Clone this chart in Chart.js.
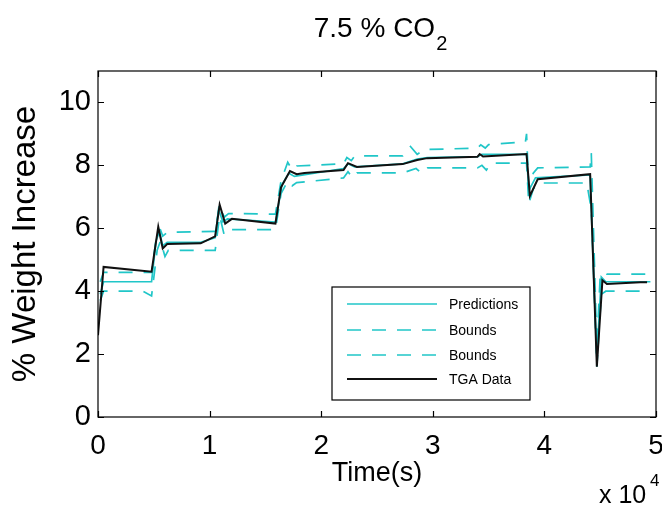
<!DOCTYPE html>
<html>
<head>
<meta charset="utf-8">
<script src="https://cdn.jsdelivr.net/npm/chart.js@4/dist/chart.umd.min.js"></script>
<style>
  html, body { margin: 0; padding: 0; background: #fff; }
  #wrap { width: 662px; height: 507px; }
</style>
</head>
<body>
<div id="wrap"><canvas id="grafico" width="662" height="507"></canvas></div>
<script>
// time in units of 1e4 s (axis shows "x 10^4")
const tgaTime  = [0, 0.05, 0.48, 0.54, 0.58, 0.62, 0.92, 1.05, 1.09, 1.14, 1.2, 1.59, 1.64, 1.72, 1.78, 1.85, 2.2, 2.24, 2.32, 2.73, 2.86, 2.95, 3.4, 3.42, 3.45, 3.84, 3.87, 3.94, 4.41, 4.47, 4.52, 4.56, 4.86, 4.92];
const tgaValue = [2.6, 4.77, 4.62, 6.05, 5.36, 5.5, 5.52, 5.74, 6.75, 6.15, 6.3, 6.15, 7.3, 7.82, 7.72, 7.76, 7.85, 8.07, 7.95, 8.04, 8.17, 8.23, 8.27, 8.36, 8.28, 8.36, 7.03, 7.56, 7.72, 1.6, 4.35, 4.23, 4.28, 4.28];

const predTime  = [0.02, 0.05, 0.48, 0.52, 0.55, 0.58, 0.62, 0.92, 1.05, 1.08, 1.12, 1.16, 1.59, 1.65, 1.71, 1.76, 2.2, 2.24, 2.3, 2.73, 2.86, 2.95, 3.4, 3.44, 3.84, 3.86, 3.92, 4.41, 4.47, 4.51, 4.55, 4.95];
const predValue = [3.9, 4.3, 4.3, 5.6, 5.9, 5.45, 5.55, 5.55, 5.7, 6.6, 6.2, 6.3, 6.2, 7.4, 7.75, 7.65, 7.9, 8.05, 7.95, 8.05, 8.2, 8.25, 8.28, 8.35, 8.35, 7.2, 7.6, 7.7, 1.9, 4.45, 4.3, 4.3];

const upperTime  = [0.02, 0.05, 0.48, 0.53, 0.56, 0.58, 0.62, 1.05, 1.09, 1.13, 1.17, 1.59, 1.64, 1.7, 1.74, 1.78, 2.2, 2.23, 2.27, 2.3, 2.73, 2.8, 2.86, 2.92, 3.4, 3.43, 3.47, 3.5, 3.83, 3.84, 3.86, 3.9, 3.94, 4.41, 4.42, 4.47, 4.5, 4.53, 4.56, 4.95];
const upperValue = [4.3, 4.6, 4.6, 5.9, 5.95, 5.75, 5.87, 5.9, 6.75, 6.35, 6.47, 6.45, 7.5, 8.1, 7.85, 7.98, 8.05, 8.25, 8.15, 8.3, 8.3, 8.6, 8.35, 8.5, 8.55, 8.65, 8.55, 8.66, 8.75, 9.0, 7.3, 7.75, 7.92, 7.95, 8.4, 2.2, 4.5, 4.6, 4.54, 4.54];

const lowerTime  = [0.02, 0.05, 0.4, 0.48, 0.53, 0.56, 0.6, 0.63, 1.05, 1.09, 1.13, 1.17, 1.59, 1.64, 1.7, 1.74, 1.78, 2.2, 2.24, 2.28, 2.32, 2.73, 2.85, 2.9, 2.95, 3.4, 3.44, 3.48, 3.52, 3.84, 3.86, 3.9, 3.95, 4.38, 4.42, 4.47, 4.51, 4.55, 4.95];
const lowerValue = [3.7, 4.0, 4.0, 3.85, 5.3, 5.6, 5.1, 5.3, 5.3, 6.4, 5.8, 5.96, 5.96, 7.1, 7.5, 7.35, 7.45, 7.6, 7.8, 7.6, 7.76, 7.76, 7.9, 7.75, 7.92, 7.92, 8.0, 7.85, 8.07, 8.07, 6.78, 7.25, 7.44, 7.44, 6.6, 1.6, 3.9, 4.0, 4.0];

const xTicks = [0, 1, 2, 3, 4, 5];
const yTicks = [0, 2, 4, 6, 8, 10];

const CYAN = 'rgb(32, 198, 200)';
const FONT = "'Liberation Sans', Arial, sans-serif";

function pts(xs, ys) {
  return xs.map((x, i) => ({ x: x, y: ys[i] }));
}

// title, box, inward ticks on all four sides, legend, exponent label
const matlabLook = {
  id: 'matlabLook',
  afterDraw(chart) {
    const ctx = chart.ctx;
    const a = chart.chartArea;
    const xs = chart.scales.x, ys = chart.scales.y;
    ctx.save();

    // box
    ctx.strokeStyle = '#000';
    ctx.lineWidth = 1.2;
    ctx.strokeRect(a.left, a.top, a.right - a.left, a.bottom - a.top);

    // ticks pointing in
    const tl = 6;
    ctx.beginPath();
    xTicks.forEach(v => {
      const px = Math.round(xs.getPixelForValue(v)) + 0.5;
      ctx.moveTo(px, a.bottom); ctx.lineTo(px, a.bottom - tl);
      ctx.moveTo(px, a.top); ctx.lineTo(px, a.top + tl);
    });
    yTicks.forEach(v => {
      const py = Math.round(ys.getPixelForValue(v)) + 0.5;
      ctx.moveTo(a.left, py); ctx.lineTo(a.left + tl, py);
      ctx.moveTo(a.right, py); ctx.lineTo(a.right - tl, py);
    });
    ctx.stroke();

    // title with subscript
    ctx.fillStyle = '#000';
    ctx.textBaseline = 'alphabetic';
    ctx.textAlign = 'left';
    ctx.font = '28px ' + FONT;
    const main = '7.5 % CO';
    const wMain = ctx.measureText(main).width;
    ctx.font = '20px ' + FONT;
    const wSub = ctx.measureText('2').width;
    const tx = 380 - (wMain + wSub) / 2;
    ctx.font = '28px ' + FONT;
    ctx.fillText(main, tx, 37);
    ctx.font = '20px ' + FONT;
    ctx.fillText('2', tx + wMain + 1, 50);

    // x 10^4
    ctx.font = '25px ' + FONT;
    ctx.fillText('x 10', 599, 503);
    ctx.font = '17px ' + FONT;
    ctx.fillText('4', 650, 486);

    // legend
    const lx = 332, ly = 287, lw = 198, lh = 113;
    ctx.fillStyle = '#fff';
    ctx.fillRect(lx, ly, lw, lh);
    ctx.strokeStyle = '#000';
    ctx.lineWidth = 1.2;
    ctx.strokeRect(lx, ly, lw, lh);
    const rows = [304, 330, 355, 379];
    chart.data.datasets.forEach((ds, i) => {
      const y = rows[i];
      ctx.beginPath();
      ctx.strokeStyle = ds.borderColor;
      ctx.lineWidth = ds.borderWidth;
      ctx.setLineDash(ds.borderDash || []);
      ctx.moveTo(347, y); ctx.lineTo(437, y);
      ctx.stroke();
      ctx.setLineDash([]);
      ctx.fillStyle = '#000';
      ctx.font = '14px ' + FONT;
      ctx.textBaseline = 'middle';
      ctx.fillText(ds.label, 449, y + 1);
    });
    ctx.restore();
  }
};

new Chart(document.getElementById('grafico').getContext('2d'), {
  type: 'line',
  data: {
    datasets: [
      { label: 'Predictions', data: pts(predTime, predValue), borderColor: CYAN, borderWidth: 1.7, order: 1 },
      { label: 'Bounds', data: pts(upperTime, upperValue), borderColor: CYAN, borderWidth: 1.7, borderDash: [14, 11], order: 2 },
      { label: 'Bounds', data: pts(lowerTime, lowerValue), borderColor: CYAN, borderWidth: 1.7, borderDash: [14, 11], order: 2 },
      { label: 'TGA Data', data: pts(tgaTime, tgaValue), borderColor: '#111', borderWidth: 2, order: 0 }
    ]
  },
  options: {
    responsive: false,
    animation: false,
    layout: { padding: { top: 71, right: 6, bottom: 0, left: 0 } },
    elements: { point: { radius: 0 }, line: { tension: 0, fill: false } },
    plugins: {
      legend: { display: false },
      title: { display: false },
      tooltip: { enabled: false }
    },
    scales: {
      x: {
        type: 'linear',
        min: 0, max: 5,
        afterBuildTicks: s => { s.ticks = xTicks.map(v => ({ value: v })); },
        afterFit: s => { s.height = 90; s.paddingLeft = 0; s.paddingRight = 0; },
        grid: { display: false, drawTicks: false },
        border: { display: false },
        ticks: { color: '#000', font: { family: FONT, size: 28 }, padding: 12, maxRotation: 0 },
        title: { display: true, text: 'Time(s)', color: '#000', font: { family: FONT, size: 27, lineHeight: 1 }, padding: { top: 0, bottom: 20 } }
      },
      y: {
        min: 0, max: 11,
        afterBuildTicks: s => { s.ticks = yTicks.map(v => ({ value: v })); },
        afterFit: s => { s.width = 98; s.paddingTop = 0; s.paddingBottom = 0; },
        grid: { display: false, drawTicks: false },
        border: { display: false },
        ticks: { color: '#000', font: { family: FONT, size: 29 }, padding: 7 },
        title: { display: true, text: '% Weight Increase', color: '#000', font: { family: FONT, size: 33, lineHeight: 1 }, padding: { top: 9, bottom: 0 } }
      }
    }
  },
  plugins: [matlabLook]
});
</script>
</body>
</html>
